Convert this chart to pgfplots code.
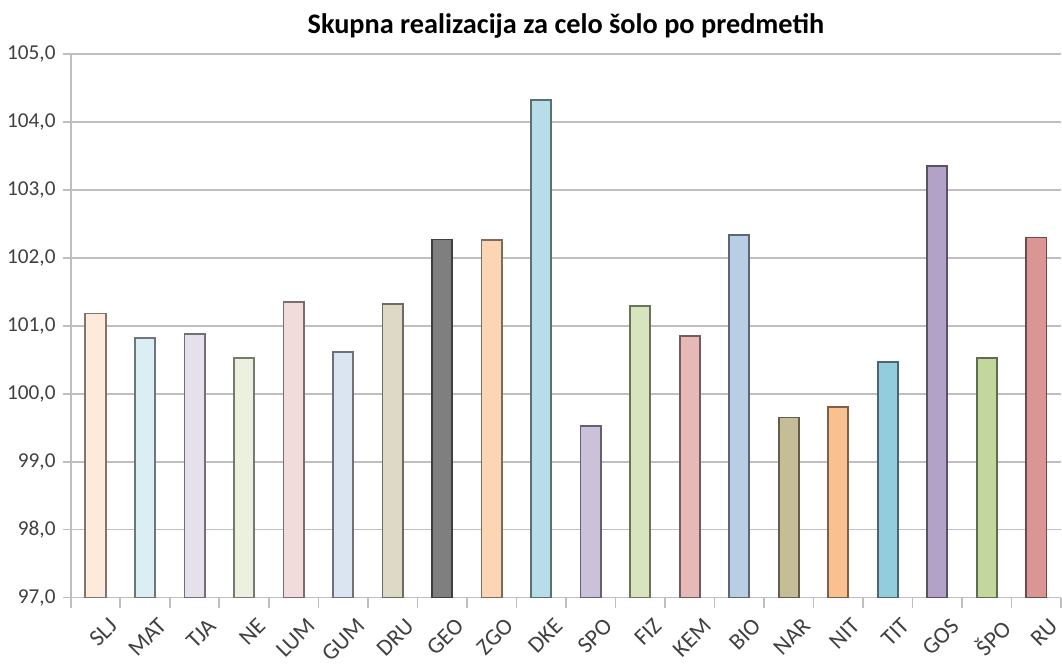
\documentclass[border=0pt]{standalone}
\usepackage{pgfplots}
\pgfplotsset{compat=1.18}
\usepackage{fontspec}
\setmainfont{Carlito}

% Excel pastel palette, one colour per subject
\definecolor{cSLJ}{HTML}{FDEADA}
\definecolor{cMAT}{HTML}{DAEEF3}
\definecolor{cTJA}{HTML}{E5E0EC}
\definecolor{cNE}{HTML}{EBF1DE}
\definecolor{cLUM}{HTML}{F2DCDB}
\definecolor{cGUM}{HTML}{DBE5F1}
\definecolor{cDRU}{HTML}{DDD9C4}
\definecolor{cGEO}{HTML}{7F7F7F}
\definecolor{cZGO}{HTML}{FCD5B5}
\definecolor{cDKE}{HTML}{B7DEE8}
\definecolor{cSPO}{HTML}{CCC1DA}
\definecolor{cFIZ}{HTML}{D7E4BD}
\definecolor{cKEM}{HTML}{E6B9B8}
\definecolor{cBIO}{HTML}{B9CDE5}
\definecolor{cNAR}{HTML}{C4BD97}
\definecolor{cNIT}{HTML}{FAC090}
\definecolor{cTIT}{HTML}{93CDDD}
\definecolor{cGOS}{HTML}{B3A2C7}
\definecolor{cSPOb}{HTML}{C3D69B}
\definecolor{cRU}{HTML}{D99694}
\definecolor{gridgray}{HTML}{BFBFBF}
\definecolor{labgray}{HTML}{404040}

\newcommand{\subjbar}[3]{\addplot[fill=#1, draw=#1!50!black, line width=0.9pt] coordinates {(#2,#3)};}

\begin{document}
\begin{tikzpicture}
\begin{axis}[
    scale only axis,
    width=490pt, height=269pt,
    ybar, bar width=10pt, bar shift=0pt,
    xmin=-0.5, xmax=19.5,
    ymin=97, ymax=105,
    ytick={97,98,...,105},
    xtick={0,...,19},
    xticklabels={SLJ,MAT,TJA,NE,LUM,GUM,DRU,GEO,ZGO,DKE,SPO,FIZ,KEM,BIO,NAR,NIT,TIT,GOS,ŠPO,RU},
    minor xtick={-0.5,0.5,...,19.5},
    major x tick style={draw=none},
    minor x tick style={gridgray, line width=0.8pt},
    y tick style={gridgray, line width=0.8pt},
    tick align=outside,
    major tick length=4pt, minor tick length=5pt,
    axis x line*=bottom, axis y line*=left,
    axis line style={gridgray, line width=0.8pt, -},
    ymajorgrids, grid style={gridgray, line width=0.8pt},
    xticklabel style={rotate=45, anchor=north east, font=\fontsize{11.5}{12}\selectfont, text=labgray, xshift=1.5pt, yshift=-7pt, inner sep=1pt},
    yticklabel style={font=\fontsize{10.5}{11}\selectfont, text=labgray, /pgf/number format/.cd, fixed, fixed zerofill, precision=1, use comma, assume math mode=true},
    title={\bfseries Skupna realizacija za celo šolo po predmetih},
    title style={font=\fontsize{14}{16}\selectfont, yshift=-2pt},
]
\subjbar{cSLJ}{0}{101.18}
\subjbar{cMAT}{1}{100.82}
\subjbar{cTJA}{2}{100.88}
\subjbar{cNE}{3}{100.53}
\subjbar{cLUM}{4}{101.35}
\subjbar{cGUM}{5}{100.62}
\subjbar{cDRU}{6}{101.32}
\subjbar{cGEO}{7}{102.27}
\subjbar{cZGO}{8}{102.26}
\subjbar{cDKE}{9}{104.32}
\subjbar{cSPO}{10}{99.53}
\subjbar{cFIZ}{11}{101.29}
\subjbar{cKEM}{12}{100.85}
\subjbar{cBIO}{13}{102.33}
\subjbar{cNAR}{14}{99.65}
\subjbar{cNIT}{15}{99.80}
\subjbar{cTIT}{16}{100.47}
\subjbar{cGOS}{17}{103.35}
\subjbar{cSPOb}{18}{100.53}
\subjbar{cRU}{19}{102.30}
\end{axis}
% white margin above the title and left of the tick labels, as in the reference
\path ([yshift=26.7pt]current axis.north) ([xshift=-35pt]current axis.south west);
\end{tikzpicture}
\end{document}
